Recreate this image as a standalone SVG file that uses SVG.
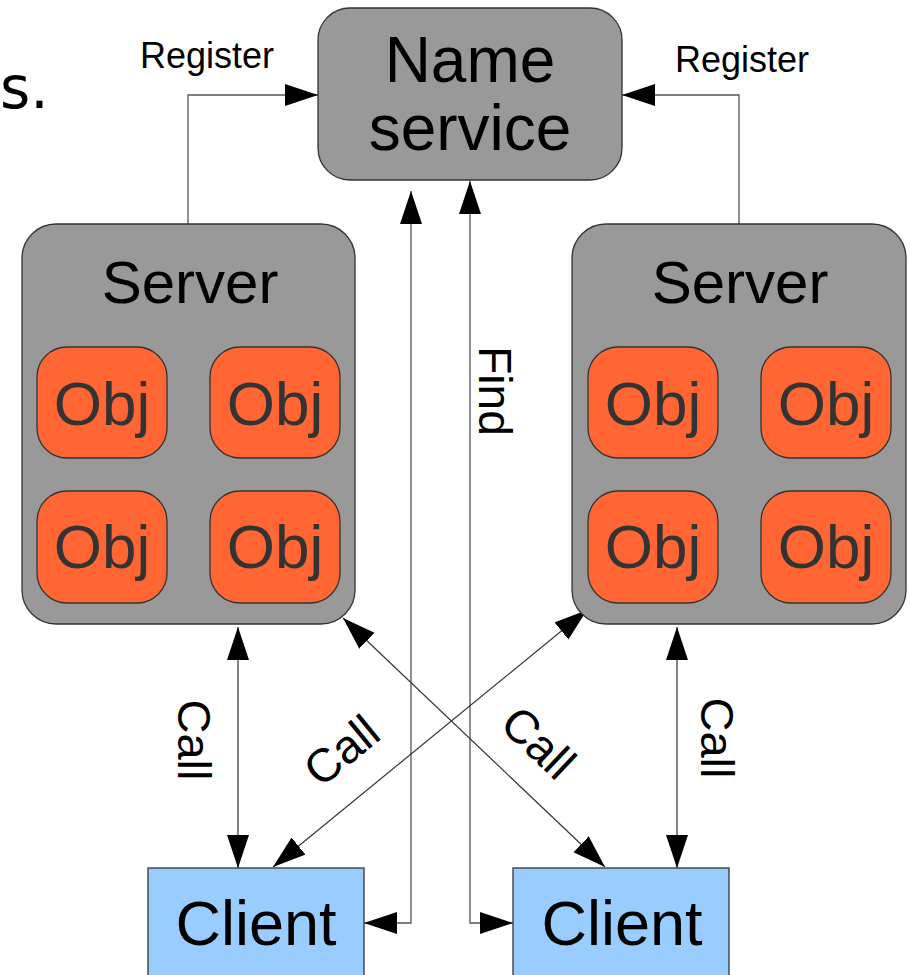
<svg xmlns="http://www.w3.org/2000/svg" width="910" height="975" viewBox="0 0 910 975">
<defs>
<style>
text{font-family:"Liberation Sans",Arial,sans-serif;}
.box{stroke:#333;stroke-width:1.3;}
.gray{fill:#999999;}
.obj{fill:#ff6633;}
.client{fill:#99ccff;}
.big{font-size:62px;text-anchor:middle;fill:#000;}
.objt{font-size:62px;text-anchor:middle;fill:#333;}
.lbl{font-size:47px;text-anchor:middle;fill:#000;}
.reg{font-size:36px;text-anchor:middle;fill:#000;}
.ln{fill:none;stroke:#333;stroke-width:1.2;}
.lg{fill:none;stroke:#555;stroke-width:1.3;}
</style>
<marker id="ah" markerUnits="userSpaceOnUse" markerWidth="34" markerHeight="24" refX="33" refY="11" orient="auto-start-reverse" viewBox="0 0 34 24">
<path d="M0,0 L33,11 L0,22 z" fill="#000"/>
</marker>
</defs>
<rect width="910" height="975" fill="#fff"/>
<text x="0" y="108" style="font-family:'DejaVu Sans',Verdana,sans-serif;font-size:58px;fill:#000">s.</text>

<g id="connectors">
<path class="lg" d="M188,224 V95 H318" marker-end="url(#ah)"/>
<path class="lg" d="M739,224 V95 H622" marker-end="url(#ah)"/>
<path class="lg" d="M411,191 V923 H364" marker-start="url(#ah)" marker-end="url(#ah)"/>
<path class="lg" d="M470,181 V923 H513" marker-start="url(#ah)" marker-end="url(#ah)"/>
<path class="ln" d="M238,627 V868" marker-start="url(#ah)" marker-end="url(#ah)"/>
<path class="ln" d="M677,627 V868" marker-start="url(#ah)" marker-end="url(#ah)"/>
<path class="ln" d="M343,618 L605,867" marker-start="url(#ah)" marker-end="url(#ah)"/>
<path class="ln" d="M587,610 L273,867" marker-start="url(#ah)" marker-end="url(#ah)"/>
<text class="reg" x="207" y="68">Register</text>
<text class="reg" x="742" y="72">Register</text>
<text class="lbl" transform="translate(495,391) rotate(90)" x="0" y="16" style="font-size:46px">Find</text>
<text class="lbl" transform="translate(195,740) rotate(90)" x="0" y="17">Call</text>
<text class="lbl" transform="translate(718,738) rotate(90)" x="0" y="17">Call</text>
<text class="lbl" transform="translate(341,750) rotate(-39.3)" x="0" y="17">Call</text>
<text class="lbl" transform="translate(539,742) rotate(43.5)" x="0" y="17">Call</text>
</g>

<g id="name-service">
<rect class="box gray" x="318" y="8" width="304" height="172" rx="32"/>
<text class="big" x="470" y="82" style="font-size:64px">Name</text>
<text class="big" x="470" y="150" style="font-size:64px">service</text>
</g>

<g id="server-left">
<rect class="box gray" x="22" y="224" width="333" height="400" rx="34"/>
<text class="big" x="190" y="303" style="font-size:60px">Server</text>
<g id="obj-l1"><rect class="box obj" x="37" y="347" width="130" height="111" rx="30"/><text class="objt" x="102" y="425">Obj</text></g>
<g id="obj-l2"><rect class="box obj" x="210" y="347" width="130" height="111" rx="30"/><text class="objt" x="275" y="425">Obj</text></g>
<g id="obj-l3"><rect class="box obj" x="37" y="491" width="130" height="112" rx="30"/><text class="objt" x="102" y="568">Obj</text></g>
<g id="obj-l4"><rect class="box obj" x="210" y="491" width="130" height="112" rx="30"/><text class="objt" x="275" y="568">Obj</text></g>
</g>

<g id="server-right">
<rect class="box gray" x="572" y="224" width="334" height="400" rx="34"/>
<text class="big" x="740" y="303" style="font-size:60px">Server</text>
<g id="obj-r1"><rect class="box obj" x="588" y="347" width="130" height="111" rx="30"/><text class="objt" x="653" y="425">Obj</text></g>
<g id="obj-r2"><rect class="box obj" x="761" y="347" width="130" height="111" rx="30"/><text class="objt" x="826" y="425">Obj</text></g>
<g id="obj-r3"><rect class="box obj" x="588" y="491" width="130" height="112" rx="30"/><text class="objt" x="653" y="568">Obj</text></g>
<g id="obj-r4"><rect class="box obj" x="761" y="491" width="130" height="112" rx="30"/><text class="objt" x="826" y="568">Obj</text></g>
</g>

<g id="client-left">
<rect class="box client" x="148" y="868" width="216" height="130"/>
<text class="big" x="256" y="945" style="font-size:63px">Client</text>
</g>

<g id="client-right">
<rect class="box client" x="513" y="868" width="216" height="130"/>
<text class="big" x="622" y="945" style="font-size:63px">Client</text>
</g>
</svg>
